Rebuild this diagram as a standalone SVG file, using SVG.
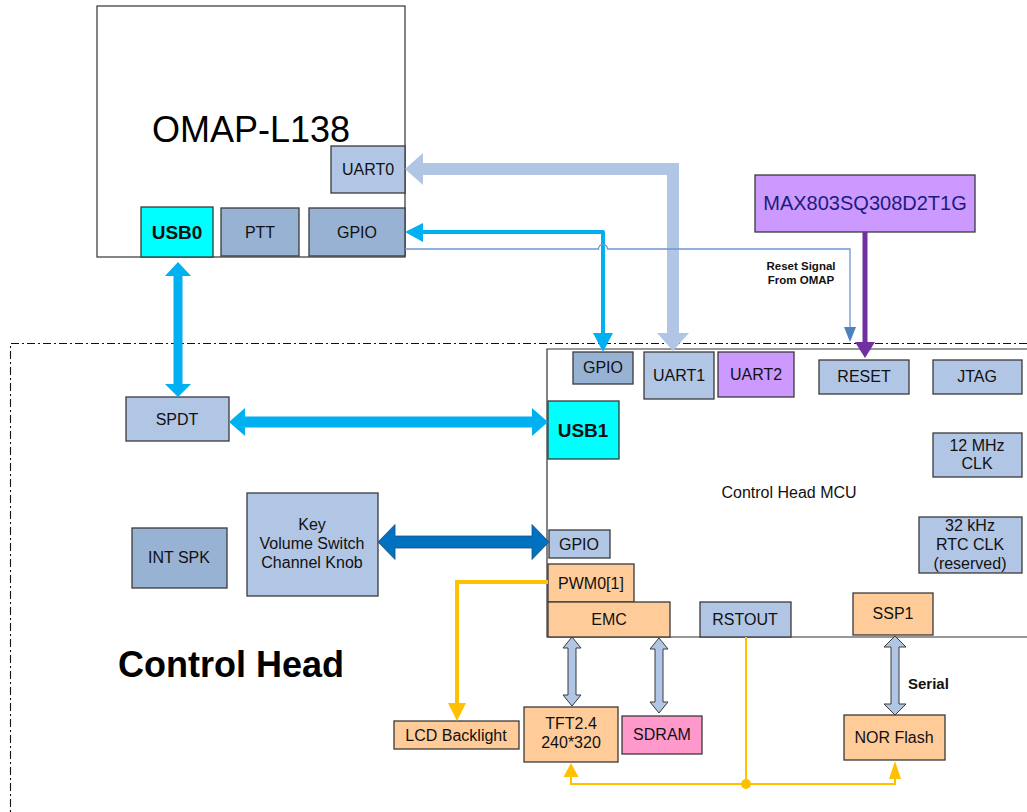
<svg xmlns="http://www.w3.org/2000/svg" width="1027" height="812" viewBox="0 0 1027 812">
<style>
text{font-family:"Liberation Sans",Arial,sans-serif;fill:#111;text-anchor:middle}
.l{font-size:16px}
.b{font-weight:bold}
rect.n{stroke:#3a3a3a;stroke-width:1.3}
.lb{fill:#B1C5E5}
.db{fill:#98B2D4}
.cy{fill:#00FFFF}
.pu{fill:#CC99FF}
.or{fill:#FFCC99}
.pk{fill:#FF99CC}
.dbl{fill:#B1C5E5;stroke:#3a3a3a;stroke-width:1}
</style>
<rect width="1027" height="812" fill="#fff"/>
<g id="control-head">
<path d="M1027,343.5 H10.5 V812" fill="none" stroke="#111" stroke-width="1.1" stroke-dasharray="8 3 2 3"/>
<text x="231" y="677" class="b" style="font-size:36px;fill:#000">Control Head</text>
</g>
<g id="mcu">
<path d="M1027,349 H547 V637 H1027" fill="#fff" stroke="#333" stroke-width="1.2"/>
<text x="789" y="498" style="font-size:16px">Control Head MCU</text>
</g>
<g id="omap">
<rect x="97" y="6" width="308" height="251" fill="#fff" stroke="#333" stroke-width="1.2"/>
<text x="251" y="142" style="font-size:36px;fill:#000">OMAP-L138</text>
</g>
<g id="uart0"><rect class="n lb" x="331" y="146" width="74" height="47"/><text class="l" x="368" y="175">UART0</text></g>
<g id="usb0"><rect class="n cy" x="141" y="207" width="72" height="50"/><text class="b" style="font-size:19px" x="177" y="239">USB0</text></g>
<g id="ptt"><rect class="n db" x="221" y="208" width="78" height="48"/><text class="l" x="260" y="238">PTT</text></g>
<g id="omap-gpio"><rect class="n db" x="309" y="208" width="96" height="48"/><text class="l" x="357" y="238">GPIO</text></g>
<g id="max803"><rect class="n pu" x="755" y="175" width="220" height="57"/><text x="865" y="210" style="font-size:20px;fill:#1c1c80">MAX803SQ308D2T1G</text></g>
<g id="mcu-gpio-top"><rect class="n db" x="573" y="352" width="60" height="32"/><text class="l" x="603" y="373">GPIO</text></g>
<g id="uart1"><rect class="n lb" x="644" y="352" width="70" height="47"/><text class="l" x="679" y="381">UART1</text></g>
<g id="uart2"><rect class="n pu" x="718" y="352" width="76" height="45"/><text class="l" x="756" y="380">UART2</text></g>
<g id="reset"><rect class="n lb" x="819" y="360" width="90" height="34"/><text class="l" x="864" y="382">RESET</text></g>
<g id="jtag"><rect class="n lb" x="933" y="360" width="89" height="34"/><text class="l" x="977" y="382">JTAG</text></g>
<g id="usb1"><rect class="n cy" x="548" y="401" width="71" height="58"/><text class="b" style="font-size:19px" x="583" y="437">USB1</text></g>
<g id="clk12"><rect class="n lb" x="933" y="433" width="89" height="44"/><text class="l" x="977" y="451">12 MHz</text><text class="l" x="977" y="469">CLK</text></g>
<g id="rtc"><rect class="n lb" x="919" y="517" width="103" height="56"/><text class="l" x="970" y="531">32 kHz</text><text class="l" x="970" y="550">RTC CLK</text><text class="l" x="970" y="569">(reserved)</text></g>
<g id="mcu-gpio"><rect class="n lb" x="549" y="530" width="61" height="28"/><text class="l" x="579" y="550">GPIO</text></g>
<g id="pwm"><rect class="n or" x="548" y="564" width="86" height="38"/><text class="l" x="591" y="589">PWM0[1]</text></g>
<g id="emc"><rect class="n or" x="548" y="602" width="122" height="35"/><text class="l" x="609" y="625">EMC</text></g>
<g id="rstout"><rect class="n lb" x="700" y="602" width="91" height="35"/><text class="l" x="745" y="625">RSTOUT</text></g>
<g id="ssp1"><rect class="n or" x="853" y="593" width="80" height="42"/><text class="l" x="893" y="619">SSP1</text></g>
<g id="spdt"><rect class="n lb" x="126" y="397" width="103" height="44"/><text class="l" x="177" y="425">SPDT</text></g>
<g id="int-spk"><rect class="n db" x="132" y="528" width="95" height="60"/><text class="l" x="179" y="563">INT SPK</text></g>
<g id="key"><rect class="n lb" x="247" y="493" width="131" height="103"/><text class="l" x="312" y="530">Key</text><text class="l" x="312" y="549">Volume Switch</text><text class="l" x="312" y="568">Channel Knob</text></g>
<g id="lcd"><rect class="n or" x="394" y="721" width="125" height="28"/><text class="l" x="456" y="741">LCD Backlight</text></g>
<g id="tft"><rect class="n or" x="524" y="707" width="94" height="55"/><text class="l" x="571" y="729">TFT2.4</text><text class="l" x="571" y="748">240*320</text></g>
<g id="sdram"><rect class="n pk" x="622" y="716" width="80" height="38"/><text class="l" x="662" y="740">SDRAM</text></g>
<g id="nor"><rect class="n or" x="844" y="715" width="101" height="45"/><text class="l" x="894" y="743">NOR Flash</text></g>
<g id="connectors">
<polygon fill="#B1C5E5" points="405,169 423,153 423,163 679,163 679,333 689,333 673,351 657,333 667,333 667,175 423,175 423,185"/>
<polyline points="423,232 603,232 603,334" fill="none" stroke="#00B0F0" stroke-width="4" stroke-linejoin="round"/>
<polygon fill="#00B0F0" points="405,232 423,223 423,242"/>
<polygon fill="#00B0F0" points="603,352 593,333 613,333"/>
<path d="M405,249 H598.5 A4.5,4.5 0 0 1 607.5,249 H850 V328" fill="none" stroke="#6F97D0" stroke-width="1.3"/>
<polygon fill="#4F81BD" points="850,342 844,327 856,327"/>
<line x1="865" y1="232" x2="865" y2="344" stroke="#7030A0" stroke-width="5"/>
<polygon fill="#7030A0" points="865,358 855,342 875,342"/>
<text x="801" y="270" class="b" style="font-size:11.5px">Reset Signal</text>
<text x="801" y="284" class="b" style="font-size:11.5px">From OMAP</text>
<polygon fill="#00B0F0" points="178,262 191,276 182.5,276 182.5,384 191,384 178,397 165,384 173.5,384 173.5,276 165,276"/>
<polygon fill="#00B0F0" points="229,422 245,408 245,416.5 532,416.5 532,408 548,422 532,436 532,427.5 245,427.5 245,436"/>
<polygon fill="#0070C0" stroke="#1F4E79" stroke-width="0.8" points="378,542 395,524.5 395,536 532,536 532,524.5 549,542 532,559.5 532,548 395,548 395,559.5"/>
<polygon class="dbl" points="572,637 581,648 576,648 576,695 581,695 572,706 563,695 568,695 568,648 563,648"/>
<polygon class="dbl" points="659,638 668,649 663,649 663,702 668,702 659,713 650,702 655,702 655,649 650,649"/>
<polygon class="dbl" points="895,636 906,647 899,647 899,704 906,704 895,715 884,704 891,704 891,647 884,647"/>
<text x="908" y="689" class="b" style="font-size:15px;text-anchor:start">Serial</text>
<polyline points="548,582 457,582 457,705" fill="none" stroke="#FFC000" stroke-width="4"/>
<polygon fill="#FFC000" points="457,721 448,703 466,703"/>
<polyline points="746,637 746,784" fill="none" stroke="#FFC000" stroke-width="2"/>
<polyline points="571,776 571,784 895,784 895,778" fill="none" stroke="#FFC000" stroke-width="2"/>
<polygon fill="#FFC000" points="571,763 563.5,777 578.5,777"/>
<polygon fill="#FFC000" points="895,761 889,779 901,779"/>
<circle cx="746" cy="784" r="5" fill="#FFC000"/>
</g>
</svg>
